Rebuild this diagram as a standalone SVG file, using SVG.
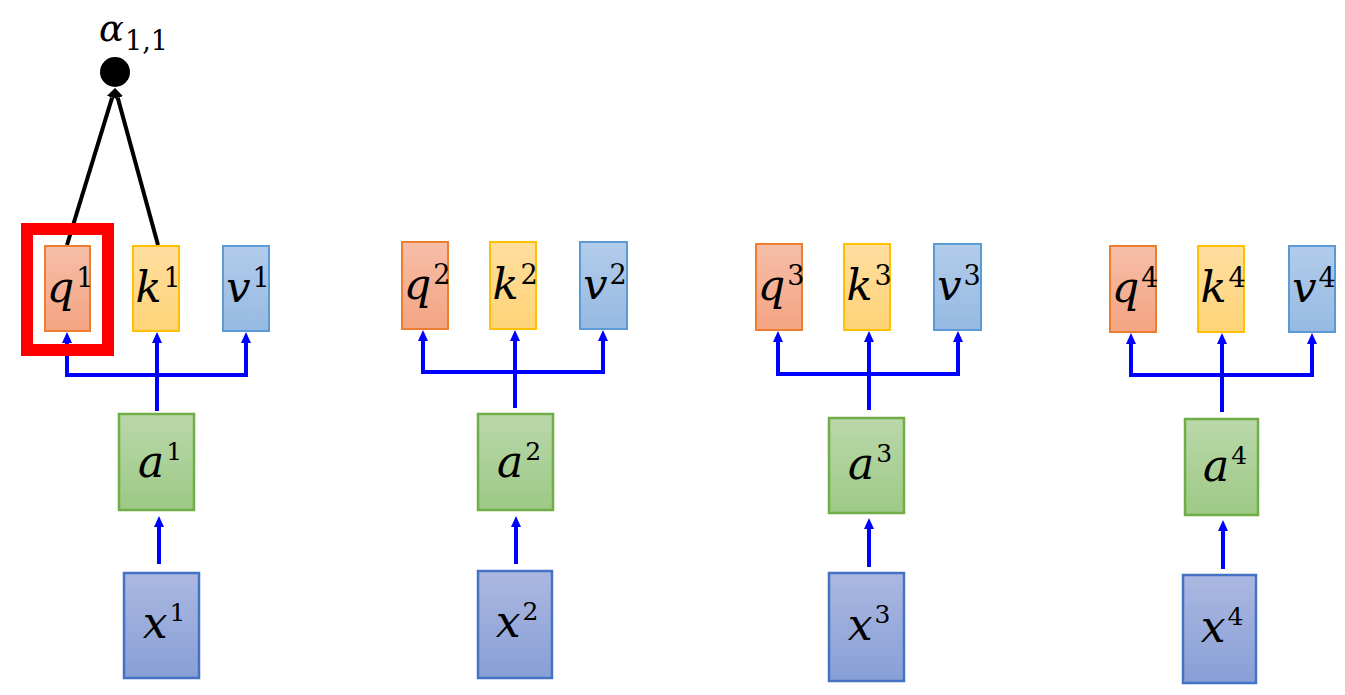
<svg xmlns="http://www.w3.org/2000/svg" width="1345" height="695" viewBox="0 0 1345 695">
<defs>
<linearGradient id="gq" x1="0" y1="0" x2="0" y2="1"><stop offset="0" stop-color="#F6BEA8"/><stop offset="1" stop-color="#F4A482"/></linearGradient>
<linearGradient id="gk" x1="0" y1="0" x2="0" y2="1"><stop offset="0" stop-color="#FFDEA0"/><stop offset="1" stop-color="#FFD376"/></linearGradient>
<linearGradient id="gv" x1="0" y1="0" x2="0" y2="1"><stop offset="0" stop-color="#B3CCEA"/><stop offset="1" stop-color="#96B9E2"/></linearGradient>
<linearGradient id="ga" x1="0" y1="0" x2="0" y2="1"><stop offset="0" stop-color="#BAD8AB"/><stop offset="1" stop-color="#9DC985"/></linearGradient>
<linearGradient id="gx" x1="0" y1="0" x2="0" y2="1"><stop offset="0" stop-color="#ABB8E1"/><stop offset="1" stop-color="#889FD6"/></linearGradient>
<marker id="ab" markerUnits="userSpaceOnUse" markerWidth="11" markerHeight="11" viewBox="0 -5.5 11 11" refX="0" refY="0" orient="auto"><path d="M0,-5 L11,0 L0,5 z" fill="#0000FF"/></marker>
<marker id="ak" markerUnits="userSpaceOnUse" markerWidth="10" markerHeight="12" viewBox="0 -6 10 12" refX="0" refY="0" orient="auto"><path d="M0,-5.5 L10,0 L0,5.5 z" fill="#000"/></marker>
<style>
.q{fill:url(#gq);stroke:#ED7D31;stroke-width:2}
.k{fill:url(#gk);stroke:#FFC000;stroke-width:2}
.v{fill:url(#gv);stroke:#5B9BD5;stroke-width:2}
.a{fill:url(#ga);stroke:#70AD47;stroke-width:2.5}
.x{fill:url(#gx);stroke:#4472C4;stroke-width:2.5}
.bl{stroke:#0000FF;stroke-width:4;fill:none}
.ba{stroke:#0000FF;stroke-width:4;fill:none;marker-end:url(#ab)}
.kl{stroke:#000;stroke-width:4;fill:none;marker-end:url(#ak)}
text{font-family:"DejaVu Serif","Liberation Serif",serif;fill:#000;text-anchor:middle}
.m{font-size:43px;font-style:italic}
.m2{font-size:44px;font-style:italic}
.s{font-size:27px;font-style:normal}
.s2{font-size:25px;font-style:normal}
</style>
</defs>

<g id="connectors">
  <line class="kl" x1="67" y1="245" x2="112.1" y2="97.6"/>
  <line class="kl" x1="158" y1="245" x2="117.7" y2="97.6"/>
  <line class="bl" x1="65" y1="375" x2="248" y2="375"/>
  <line class="bl" x1="157" y1="377" x2="157" y2="411"/>
  <line class="ba" x1="67" y1="375" x2="67" y2="343"/>
  <line class="ba" x1="157" y1="375" x2="157" y2="343"/>
  <line class="ba" x1="246" y1="375" x2="246" y2="343"/>
  <line class="ba" x1="159" y1="564" x2="159" y2="527"/>
  <line class="bl" x1="421" y1="372" x2="605" y2="372"/>
  <line class="bl" x1="515" y1="374" x2="515" y2="408"/>
  <line class="ba" x1="423" y1="372" x2="423" y2="341"/>
  <line class="ba" x1="515" y1="372" x2="515" y2="341"/>
  <line class="ba" x1="603" y1="372" x2="603" y2="341"/>
  <line class="ba" x1="516" y1="564" x2="516" y2="527"/>
  <line class="bl" x1="776" y1="374" x2="960" y2="374"/>
  <line class="bl" x1="869" y1="376" x2="869" y2="410"/>
  <line class="ba" x1="778" y1="374" x2="778" y2="342"/>
  <line class="ba" x1="869" y1="374" x2="869" y2="342"/>
  <line class="ba" x1="958" y1="374" x2="958" y2="342"/>
  <line class="ba" x1="869" y1="567" x2="869" y2="529"/>
  <line class="bl" x1="1129" y1="375" x2="1314" y2="375"/>
  <line class="bl" x1="1222" y1="377" x2="1222" y2="412"/>
  <line class="ba" x1="1131" y1="375" x2="1131" y2="344"/>
  <line class="ba" x1="1222" y1="375" x2="1222" y2="344"/>
  <line class="ba" x1="1312" y1="375" x2="1312" y2="344"/>
  <line class="ba" x1="1223" y1="569" x2="1223" y2="531"/>
</g>

<g id="alpha11">
  <circle cx="115" cy="72" r="15" fill="#000"/>
  <text x="99" y="41" style="text-anchor:start"><tspan font-size="37px" font-style="italic">α</tspan><tspan font-size="27px" dx="1" dy="9">1,1</tspan></text>
</g>

<g id="col1">
  <g id="q1"><rect class="q" x="45" y="246" width="45" height="85"/><text x="70" y="302"><tspan class="m">q</tspan><tspan class="s" dx="2" dy="-15">1</tspan></text></g>
  <g id="k1"><rect class="k" x="133" y="246" width="46" height="85"/><text x="158" y="302"><tspan class="m">k</tspan><tspan class="s" dx="2" dy="-15">1</tspan></text></g>
  <g id="v1"><rect class="v" x="223" y="246" width="46" height="85"/><text x="248" y="302"><tspan class="m">v</tspan><tspan class="s" dx="2" dy="-15">1</tspan></text></g>
  <g id="a1"><rect class="a" x="119" y="414" width="75" height="96"/><text x="160" y="477"><tspan class="m2">a</tspan><tspan class="s2" dx="2" dy="-17">1</tspan></text></g>
  <g id="x1"><rect class="x" x="124" y="573" width="75" height="105"/><text x="164" y="638"><tspan class="m2">x</tspan><tspan class="s2" dx="2" dy="-17">1</tspan></text></g>
</g>

<g id="col2">
  <g id="q2"><rect class="q" x="402" y="242" width="46" height="87"/><text x="427" y="299"><tspan class="m">q</tspan><tspan class="s" dx="2" dy="-15">2</tspan></text></g>
  <g id="k2"><rect class="k" x="490" y="242" width="46" height="87"/><text x="515" y="299"><tspan class="m">k</tspan><tspan class="s" dx="2" dy="-15">2</tspan></text></g>
  <g id="v2"><rect class="v" x="580" y="242" width="47" height="87"/><text x="605" y="299"><tspan class="m">v</tspan><tspan class="s" dx="2" dy="-15">2</tspan></text></g>
  <g id="a2"><rect class="a" x="478" y="414" width="75" height="96"/><text x="519" y="477"><tspan class="m2">a</tspan><tspan class="s2" dx="2" dy="-17">2</tspan></text></g>
  <g id="x2"><rect class="x" x="478" y="571" width="74" height="107"/><text x="517" y="637"><tspan class="m2">x</tspan><tspan class="s2" dx="2" dy="-17">2</tspan></text></g>
</g>

<g id="col3">
  <g id="q3"><rect class="q" x="756" y="244" width="46" height="86"/><text x="781" y="300"><tspan class="m">q</tspan><tspan class="s" dx="2" dy="-15">3</tspan></text></g>
  <g id="k3"><rect class="k" x="844" y="244" width="46" height="86"/><text x="869" y="300"><tspan class="m">k</tspan><tspan class="s" dx="2" dy="-15">3</tspan></text></g>
  <g id="v3"><rect class="v" x="934" y="244" width="47" height="86"/><text x="959" y="300"><tspan class="m">v</tspan><tspan class="s" dx="2" dy="-15">3</tspan></text></g>
  <g id="a3"><rect class="a" x="829" y="418" width="75" height="95"/><text x="870" y="479"><tspan class="m2">a</tspan><tspan class="s2" dx="2" dy="-17">3</tspan></text></g>
  <g id="x3"><rect class="x" x="829" y="573" width="75" height="108"/><text x="869" y="640"><tspan class="m2">x</tspan><tspan class="s2" dx="2" dy="-17">3</tspan></text></g>
</g>

<g id="col4">
  <g id="q4"><rect class="q" x="1110" y="246" width="46" height="86"/><text x="1135" y="302"><tspan class="m">q</tspan><tspan class="s" dx="2" dy="-15">4</tspan></text></g>
  <g id="k4"><rect class="k" x="1198" y="246" width="46" height="86"/><text x="1223" y="302"><tspan class="m">k</tspan><tspan class="s" dx="2" dy="-15">4</tspan></text></g>
  <g id="v4"><rect class="v" x="1289" y="246" width="46" height="86"/><text x="1314" y="302"><tspan class="m">v</tspan><tspan class="s" dx="2" dy="-15">4</tspan></text></g>
  <g id="a4"><rect class="a" x="1185" y="419" width="73" height="96"/><text x="1225" y="481"><tspan class="m2">a</tspan><tspan class="s2" dx="2" dy="-17">4</tspan></text></g>
  <g id="x4"><rect class="x" x="1183" y="575" width="73" height="108"/><text x="1222" y="642"><tspan class="m2">x</tspan><tspan class="s2" dx="2" dy="-17">4</tspan></text></g>
</g>

<g id="highlight">
  <rect x="27" y="229" width="81" height="121" fill="none" stroke="#FF0000" stroke-width="12"/>
</g>
</svg>
